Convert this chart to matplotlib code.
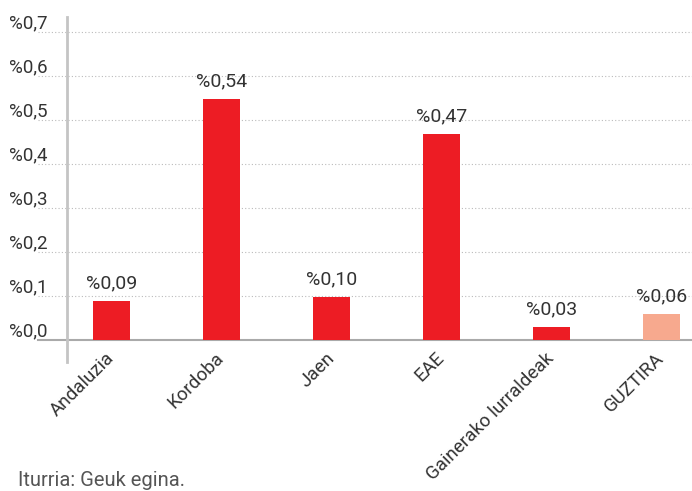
import matplotlib
matplotlib.use("Agg")
import matplotlib.pyplot as plt
import matplotlib.transforms as mtransforms

categories = ["Andaluzia", "Kordoba", "Jaen", "EAE", "Gainerako lurraldeak", "GUZTIRA"]
values = [0.089, 0.548, 0.098, 0.468, 0.030, 0.059]
value_labels = ["%0,09", "%0,54", "%0,10", "%0,47", "%0,03", "%0,06"]
colors = ["#ED1C24", "#ED1C24", "#ED1C24", "#ED1C24", "#ED1C24", "#F7A98E"]
yticks = [0.0, 0.1, 0.2, 0.3, 0.4, 0.5, 0.6, 0.7]
ytick_labels = ["%0,0", "%0,1", "%0,2", "%0,3", "%0,4", "%0,5", "%0,6", "%0,7"]
source = "Iturria: Geuk egina."

plt.rcParams['font.family'] = ['Roboto', 'DejaVu Sans']
txt = "#333333"

fig = plt.figure(figsize=(6.92, 4.91), dpi=100)
ax = fig.add_axes([38/692, 1 - 340/491, 1 - 38/692, (340-17)/491])
x = list(range(len(categories)))
ax.bar(x, values, width=0.336, color=colors, zorder=3)
ax.set_xlim(-0.67, 5.28)
ax.set_ylim(0, 0.734)

for s in ["top", "right", "left"]:
    ax.spines[s].set_visible(False)
ax.spines["bottom"].set_color("#aaaaaa")
ax.spines["bottom"].set_linewidth(1.5)

ax.set_yticks(yticks)
ax.set_yticklabels([])
ax.tick_params(axis="y", length=0)
ax.grid(axis="y", linestyle=(0, (1, 2)), color="#bbbbbb", linewidth=0.8, zorder=0)

# y tick labels above gridlines, left-aligned at figure x=9px
trans = mtransforms.blended_transform_factory(fig.transFigure, ax.transData)
for yv, lab in zip(yticks, ytick_labels):
    ax.text(9/692, yv, lab, transform=mtransforms.offset_copy(trans, fig=fig, y=-0.5, units="points"),
            ha="left", va="bottom", fontsize=13.5, color=txt, clip_on=False)

# vertical axis line
ax.plot([-0.41, -0.41], [-0.05, 0.734], color="#c4c4c4", linewidth=2, clip_on=False, zorder=4)

ax.set_xticks(x)
ax.set_xticklabels(categories, rotation=45, ha="right", va="center", rotation_mode="anchor",
                   fontsize=13.5, color=txt)
ax.tick_params(axis="x", length=0, pad=11)

for xi, v, lab in zip(x, values, value_labels):
    ax.annotate(lab, (xi, v), xytext=(0, 6), textcoords="offset points",
                ha="center", va="bottom", fontsize=14, color=txt)

fig.text(18/692, 1 - 480/491, source, ha="left", va="center", fontsize=14.5, color="#555555")

fig.savefig("out.png", dpi=100)
